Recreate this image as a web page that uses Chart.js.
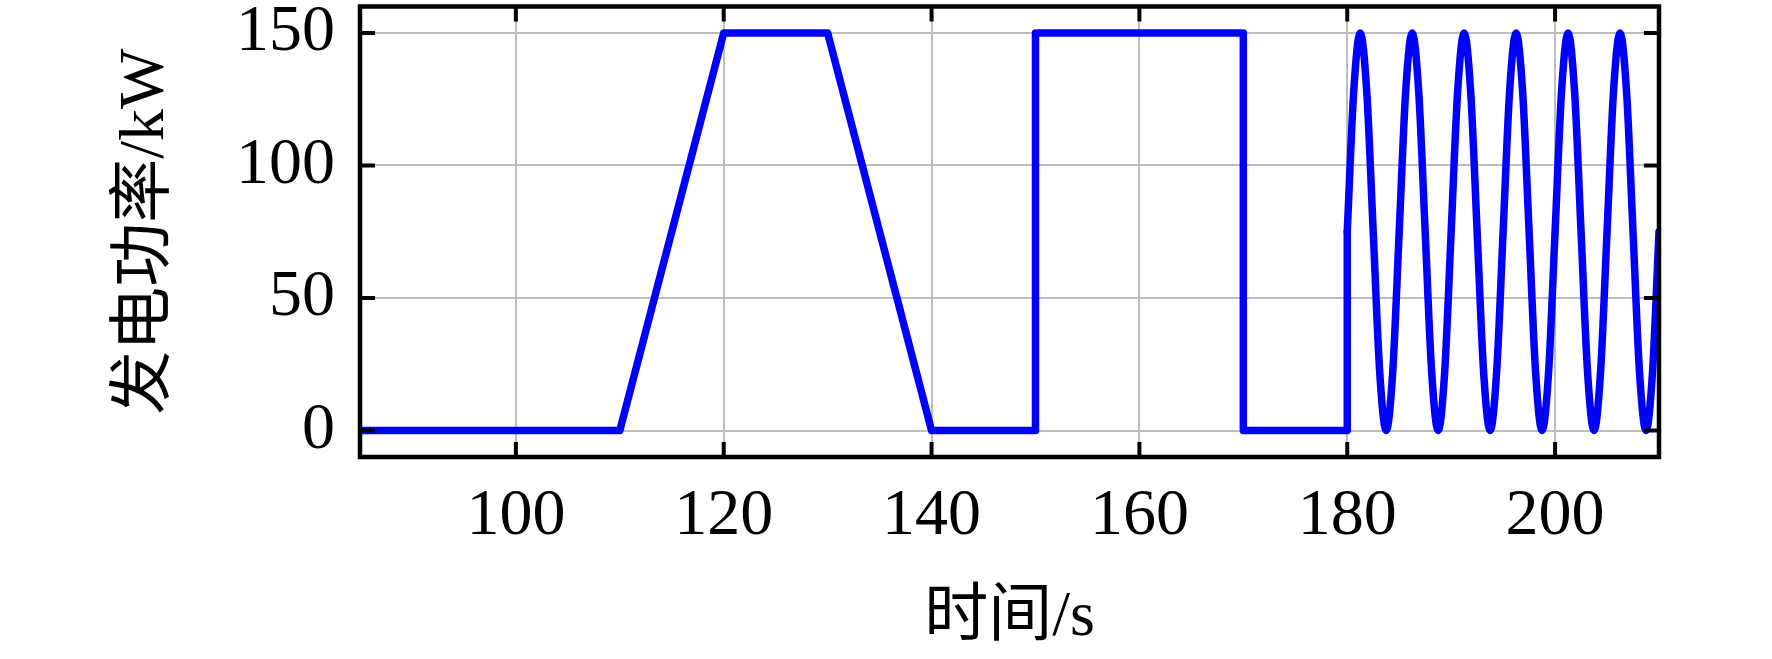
<!DOCTYPE html>
<html>
<head>
<meta charset="utf-8">
<script src="https://cdn.jsdelivr.net/npm/chart.js@4.4.0/dist/chart.umd.min.js"></script>
<style>
    body { margin: 0; background: #fff; }
    #powerChart { display: block; }
</style>
</head>
<body>
<canvas id="powerChart" width="1772" height="659"></canvas>
<script>
// axis ticks
const xTicks = [100, 120, 140, 160, 180, 200];
const yTicks = [0, 50, 100, 150];

// piecewise part (ramp, hold, step)
const stepTimes = [85, 110, 120, 130, 140, 150, 150, 170, 170, 180, 180];
const stepPower = [0, 0, 150, 150, 0, 0, 150, 150, 0, 0, 75];

// oscillating part after 180 s, read every eighth of a period
const waveTimes = [
    180, 180.625, 181.25, 181.875, 182.5, 183.125, 183.75, 184.375,
    185, 185.625, 186.25, 186.875, 187.5, 188.125, 188.75, 189.375,
    190, 190.625, 191.25, 191.875, 192.5, 193.125, 193.75, 194.375,
    195, 195.625, 196.25, 196.875, 197.5, 198.125, 198.75, 199.375,
    200, 200.625, 201.25, 201.875, 202.5, 203.125, 203.75, 204.375,
    205, 205.625, 206.25, 206.875, 207.5, 208.125, 208.75, 209.375,
    210
];
const wavePower = [
    75, 128, 150, 128, 75, 22, 0, 22,
    75, 128, 150, 128, 75, 22, 0, 22,
    75, 128, 150, 128, 75, 22, 0, 22,
    75, 128, 150, 128, 75, 22, 0, 22,
    75, 128, 150, 128, 75, 22, 0, 22,
    75, 128, 150, 128, 75, 22, 0, 22,
    75
];

const xTitle = '时间/s';
const yTitle = '发电功率/kW';

const lineBlue = '#0000ff';
const textFont = "'Liberation Serif', 'Noto Sans CJK SC', serif";

function toPoints(xs, ys) {
    return xs.map((x, i) => ({ x: x, y: ys[i] }));
}

// frame + inward ticks on all four sides
const framePlugin = {
    id: 'frame',
    afterDraw: (chart) => {
        const { ctx, chartArea: { left, top, right, bottom }, scales: { x, y } } = chart;
        const tickLen = 15;
        ctx.save();
        ctx.strokeStyle = '#000';
        ctx.lineWidth = 4;
        ctx.lineCap = 'butt';
        ctx.beginPath();
        xTicks.forEach((v) => {
            const px = x.getPixelForValue(v);
            ctx.moveTo(px, bottom);
            ctx.lineTo(px, bottom - tickLen);
            ctx.moveTo(px, top);
            ctx.lineTo(px, top + tickLen);
        });
        yTicks.forEach((v) => {
            const py = y.getPixelForValue(v);
            ctx.moveTo(left, py);
            ctx.lineTo(left + tickLen, py);
            ctx.moveTo(right, py);
            ctx.lineTo(right - tickLen, py);
        });
        ctx.stroke();
        ctx.lineWidth = 4.5;
        ctx.strokeRect(left, top, right - left, bottom - top);
        ctx.restore();
    }
};

// drop the extra room chart.js keeps for edge labels
function noEdgePadding(scale) {
    scale.paddingTop = 0;
    scale.paddingBottom = 0;
    scale.paddingLeft = 0;
    scale.paddingRight = 0;
}

const ctx = document.getElementById('powerChart');

new Chart(ctx, {
    type: 'line',
    data: {
        datasets: [
            {
                data: toPoints(stepTimes, stepPower),
                borderColor: lineBlue,
                borderWidth: 7.5,
                borderJoinStyle: 'round',
                borderCapStyle: 'round',
                pointRadius: 0,
                tension: 0
            },
            {
                data: toPoints(waveTimes, wavePower),
                borderColor: lineBlue,
                borderWidth: 7.5,
                borderJoinStyle: 'round',
                borderCapStyle: 'round',
                pointRadius: 0,
                cubicInterpolationMode: 'monotone'
            }
        ]
    },
    options: {
        responsive: false,
        animation: false,
        layout: {
            padding: { left: 0, top: 6.5, right: 113, bottom: 0 }
        },
        plugins: {
            legend: { display: false },
            tooltip: { enabled: false }
        },
        scales: {
            x: {
                type: 'linear',
                min: 85,
                max: 210,
                afterBuildTicks: (scale) => {
                    scale.ticks = xTicks.map((v) => ({ value: v }));
                },
                afterFit: (scale) => {
                    scale.height = 202;
                    noEdgePadding(scale);
                },
                grid: {
                    color: '#bdbdbd',
                    lineWidth: 2,
                    drawTicks: false
                },
                border: { display: false },
                ticks: {
                    padding: 20,
                    maxRotation: 0,
                    color: '#000',
                    font: { family: textFont, size: 66 }
                },
                title: {
                    display: true,
                    text: xTitle,
                    color: '#000',
                    font: { family: textFont, size: 64 },
                    padding: { top: 0, bottom: 2 }
                }
            },
            y: {
                type: 'linear',
                min: -10,
                max: 160,
                afterBuildTicks: (scale) => {
                    scale.ticks = yTicks.map((v) => ({ value: v }));
                },
                afterFit: (scale) => {
                    scale.width = 360;
                    noEdgePadding(scale);
                },
                grid: {
                    color: '#bdbdbd',
                    lineWidth: 2,
                    drawTicks: false
                },
                border: { display: false },
                ticks: {
                    padding: 25,
                    color: '#000',
                    font: { family: textFont, size: 66 }
                },
                title: {
                    display: true,
                    text: yTitle,
                    color: '#000',
                    font: { family: textFont, size: 64 },
                    padding: { top: 108, bottom: 0 }
                }
            }
        }
    },
    plugins: [framePlugin]
});
</script>
</body>
</html>
